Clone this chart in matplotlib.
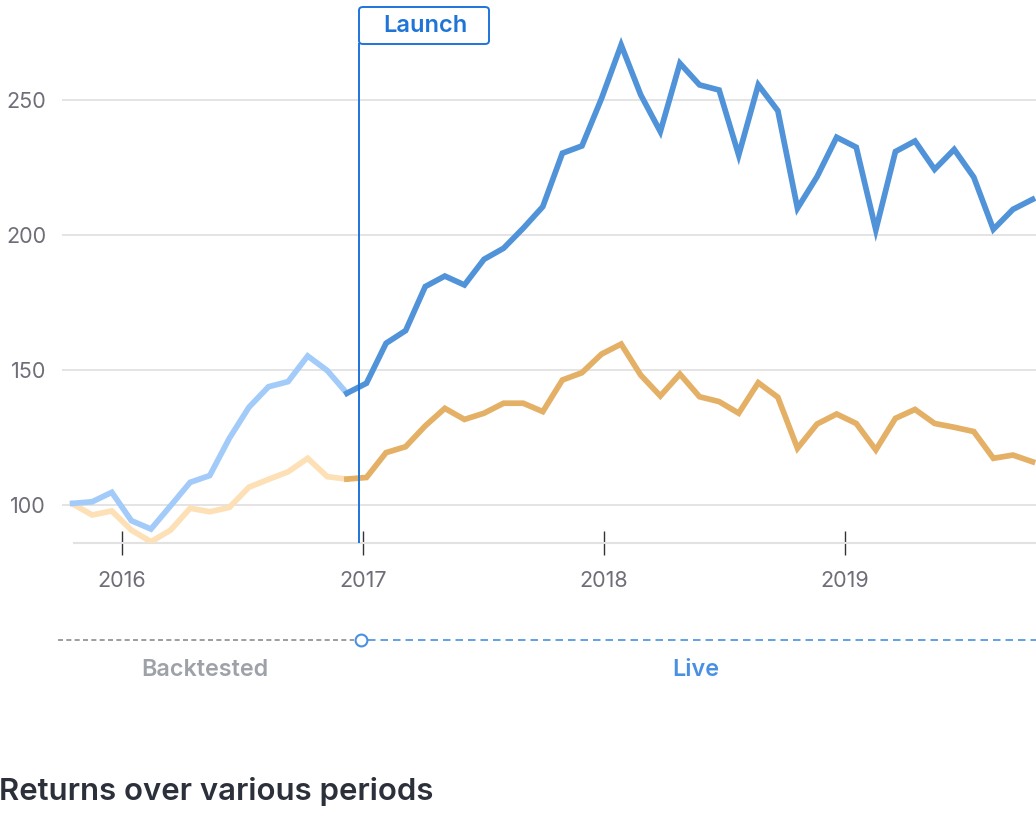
import numpy as np
import matplotlib
matplotlib.use("Agg")
from matplotlib import pyplot as plt
from matplotlib.lines import Line2D
from matplotlib.patches import FancyBboxPatch

# monthly index values
strategy = [100.6, 101.2, 104.7, 94.2, 91.1, 99.7, 108.4, 110.9, 124.7, 136.2,
            143.8, 145.7, 155.2, 149.8, 141.4, 145.1, 159.9, 164.6, 180.9, 184.8,
            181.5, 191.0, 195.1, 202.5, 210.5, 230.3, 233.0, 250.6, 270.4, 251.9,
            238.3, 263.6, 255.6, 253.7, 229.6, 255.6, 246.0, 209.9, 221.6, 236.2,
            232.5, 201.9, 230.9, 234.8, 224.3, 231.7, 221.4, 202.1, 209.5, 213.2]
benchmark = [100.4, 96.3, 97.8, 90.7, 86.4, 90.7, 98.8, 97.5, 99.1, 106.6,
             109.5, 112.3, 117.3, 110.5, 109.6, 110.2, 119.4, 121.6, 129.3, 135.8,
             131.7, 134.0, 137.7, 137.7, 134.6, 146.3, 149.0, 155.9, 159.6, 148.1,
             140.4, 148.5, 140.1, 138.3, 134.0, 145.3, 139.9, 121.0, 130.0, 133.7,
             130.2, 120.4, 132.1, 135.4, 130.2, 128.8, 127.2, 117.3, 118.5, 116.0]
start_year = 2015.795
step_year = 0.0813
launch_idx = 14
launch_year = 2016.983
year_ticks = [2016, 2017, 2018, 2019]
value_ticks = [100, 150, 200, 250]

W, H = 1036, 815


def fx(px):
    return px / W


def fy(py):
    return 1 - py / H


dates = start_year + step_year * np.arange(len(strategy))

plt.rcParams["font.family"] = ["Inter", "DejaVu Sans"]

fig = plt.figure(figsize=(W / 100, H / 100), dpi=100)
ax = fig.add_axes([fx(62), fy(543), fx(1036) - fx(62), fy(0) - fy(543)])

ax.set_xlim(2015.751, 2019.793)
ax.set_ylim(85.93, 287.04)
for s in ax.spines.values():
    s.set_visible(False)

ax.set_yticks(value_ticks)
ax.set_yticklabels([str(v) for v in value_ticks], fontsize=15.5, color="#6e6e78")
ax.tick_params(axis="y", length=0, pad=11.5)
ax.grid(axis="y", color="#e2e2e2", linewidth=1.3)
ax.set_axisbelow(True)

ax.set_xticks(year_ticks)
ax.set_xticklabels([str(y) for y in year_ticks], fontsize=15.5, color="#6e6e78")
ax.tick_params(axis="x", direction="inout", length=17, width=1.0,
               color="#333333", pad=11.5)
ax.axhline(85.93, xmin=12 / 974, color="#e2e2e2", linewidth=1.5, clip_on=False,
           zorder=1)

lw = 4.1
ax.plot(dates[:launch_idx + 1], benchmark[:launch_idx + 1], color="#fde0b5",
        linewidth=lw, solid_joinstyle="miter", zorder=3)
ax.plot(dates[launch_idx:], benchmark[launch_idx:], color="#e4b066",
        linewidth=lw, solid_joinstyle="miter", zorder=3)
ax.plot(dates[:launch_idx + 1], strategy[:launch_idx + 1], color="#a2cbf9",
        linewidth=lw, solid_joinstyle="miter", zorder=4)
ax.plot(dates[launch_idx:], strategy[launch_idx:], color="#5093d8",
        linewidth=lw, solid_joinstyle="miter", zorder=4)

# launch marker
ax.axvline(launch_year, ymin=0, ymax=(543 - 44) / 543,
           color="#1f74d8", linewidth=1.4, zorder=5)
box = FancyBboxPatch((fx(359), fy(44)), fx(489) - fx(359), fy(7) - fy(44),
                     boxstyle="round,pad=0,rounding_size=0.004",
                     transform=fig.transFigure, facecolor="white",
                     edgecolor="#1f74d8", linewidth=1.4)
fig.patches.append(box)
fig.text(fx(425), fy(26.5), "Launch", ha="center", va="center", fontsize=17,
         fontweight="semibold", color="#1f74d8")

# backtested / live timeline
fig.add_artist(Line2D([fx(58), fx(354)], [fy(640), fy(640)], color="#8c8c8c",
                      linewidth=1.2, dashes=(3, 2)))
fig.add_artist(Line2D([fx(368), fx(1036)], [fy(640), fy(640)], color="#4a90e2",
                      linewidth=1.2, dashes=(4.5, 3)))
fig.add_artist(Line2D([fx(361)], [fy(640)], marker="o", markersize=8.5,
                      markerfacecolor="white", markeredgecolor="#4a90e2",
                      markeredgewidth=1.5, linestyle="none"))
fig.text(fx(205), fy(670), "Backtested", ha="center", va="center", fontsize=16.8,
         fontweight="semibold", color="#9ea2a8")
fig.text(fx(696), fy(670), "Live", ha="center", va="center", fontsize=16.8,
         fontweight="semibold", color="#4a90e2")

fig.text(fx(-1), fy(792), "Returns over various periods", ha="left",
         va="center", fontsize=22.4, fontweight="semibold", color="#2b303a")

fig.savefig("out.png", dpi=100)
